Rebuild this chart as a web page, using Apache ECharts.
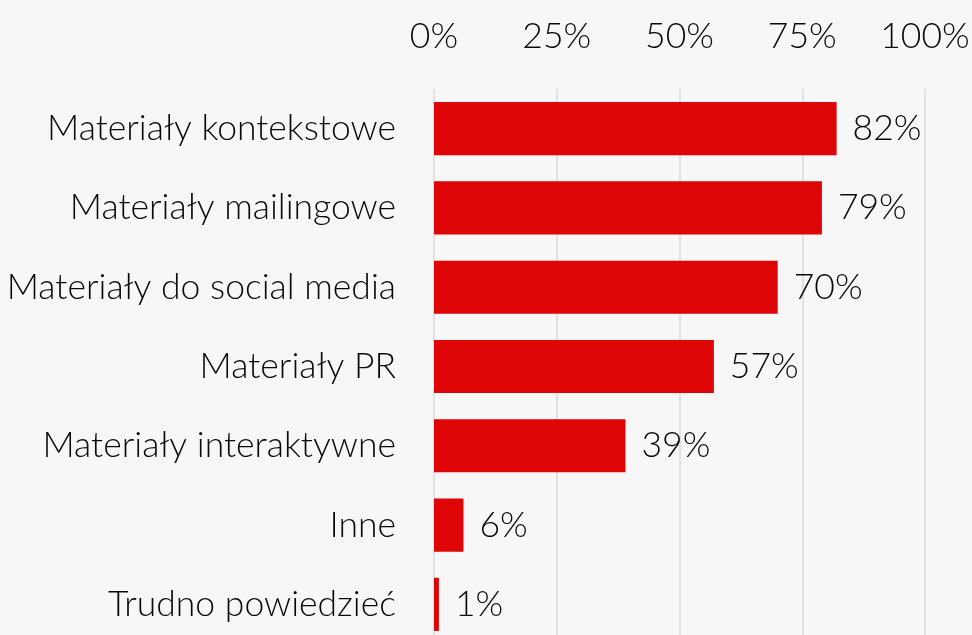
<!DOCTYPE html>
<html>
<head>
<meta charset="utf-8">
<script src="https://cdn.jsdelivr.net/npm/echarts@6/dist/echarts.min.js"></script>
<style>
html,body{margin:0;padding:0;background:#f7f7f7;}
#c{width:972px;height:635px;}
</style>
</head>
<body>
<div id="c"></div>
<script>
var categories = ["Materiały kontekstowe","Materiały mailingowe","Materiały do social media","Materiały PR","Materiały interaktywne","Inne","Trudno powiedzieć"];
var values = [82, 79, 70, 57, 39, 6, 1];
var tickValues = [0, 25, 50, 75, 100];

var FONT = 'Lato';
var chart = echarts.init(document.getElementById('c'));
chart.setOption({
  backgroundColor: '#f7f7f7',
  animation: false,
  grid: {left: 434, top: 89, width: 491, height: 555, containLabel: false, outerBoundsMode: 'none'},
  xAxis: {
    type: 'value', position: 'top', min: 0, max: 100, interval: 25,
    axisLine: {show: false}, axisTick: {show: false},
    axisLabel: {formatter: '{value}%', color: '#0a0a0a', fontFamily: FONT, fontWeight: 300, fontSize: 35.5, margin: 34},
    splitLine: {show: true, lineStyle: {color: '#dadada', width: 1.5}}
  },
  yAxis: {
    type: 'category', data: categories, inverse: true,
    axisLine: {show: false}, axisTick: {show: false},
    axisLabel: {color: '#0a0a0a', fontFamily: FONT, fontWeight: 300, fontSize: 35.5, margin: 38}
  },
  series: [{
    type: 'bar', data: values, barCategoryGap: '33%',
    itemStyle: {color: '#dd0505'},
    label: {show: true, position: 'right', distance: 16, formatter: '{c}%', color: '#0a0a0a', fontFamily: FONT, fontWeight: 300, fontSize: 35.5}
  }]
});
</script>
</body>
</html>
